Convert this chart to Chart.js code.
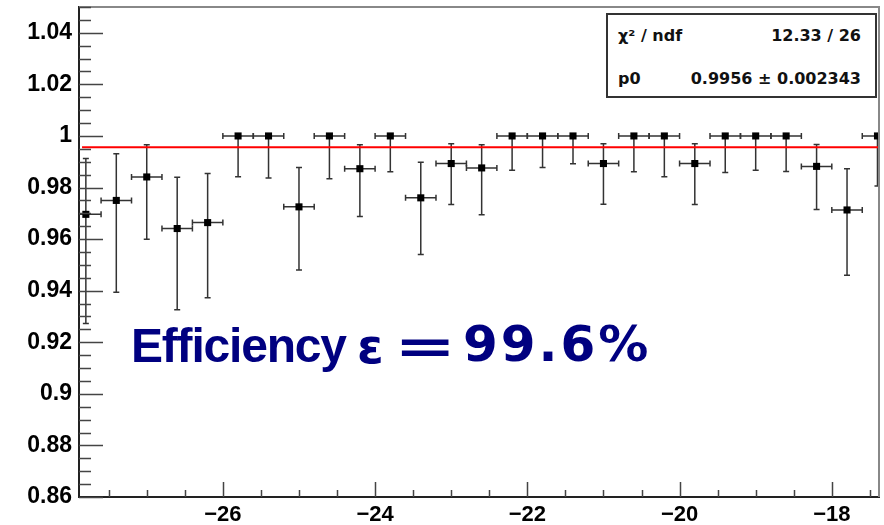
<!DOCTYPE html>
<html>
<head>
<meta charset="utf-8">
<script src="https://cdn.jsdelivr.net/npm/chart.js@4.4.1/dist/chart.umd.min.js"></script>
<style>
  body { margin: 0; background: #fff; }
  #wrap { position: relative; width: 884px; height: 525px; }
  #statbox {
    position: absolute; left: 606px; top: 13px; width: 267px; height: 81px;
    border: 2px solid #333; background: #fff;
    font-family: "DejaVu Sans", sans-serif; font-weight: bold; font-size: 16px; color: #111;
  }
  #statbox .row { position: absolute; left: 10px; right: 14px; display: flex; justify-content: space-between; }
  .eff {
    position: absolute; top: 318px; line-height: 56px;
    font-weight: bold; font-size: 48px; color: #000080; white-space: pre;
  }
  .eff.word { font-family: "Liberation Sans", sans-serif; }
  .eff.math { font-family: "DejaVu Sans", sans-serif; }
</style>
</head>
<body>
<div id="wrap">
  <canvas id="effChart"></canvas>
  <div id="statbox">
    <div class="row" style="top: 11px;"><span>χ² / ndf</span><span>12.33 / 26</span></div>
    <div class="row" style="top: 54px;"><span>p0</span><span>0.9956 ± 0.002343</span></div>
  </div>
  <span class="eff word" style="left: 131px; letter-spacing: -1.2px;">Efficiency</span>
  <span class="eff math" style="left: 357px;">ε</span>
  <span class="eff math" style="left: 394px; transform: scaleX(1.55); transform-origin: left;">=</span>
  <span class="eff math" style="left: 463px; top: 316px; font-size: 50px; letter-spacing: 3px;">99.6%</span>
</div>
<script>
// bin centres
const binX = [-27.8, -27.4, -27.0, -26.6, -26.2, -25.8, -25.4, -25.0, -24.6, -24.2,
  -23.8, -23.4, -23.0, -22.6, -22.2, -21.8, -21.4, -21.0, -20.6, -20.2,
  -19.8, -19.4, -19.0, -18.6, -18.2, -17.8, -17.4];
const binHalfWidth = 0.2;

// efficiency per bin with asymmetric errors
const eff = [0.9696, 0.975, 0.9841, 0.9641, 0.9664, 1, 1, 0.9725, 1, 0.9873,
  1, 0.976, 0.9893, 0.9876, 1, 1, 1, 0.9893, 1, 1,
  0.9893, 1, 1, 1, 0.9882, 0.9713, 1];
const errDown = [0.0423, 0.0356, 0.0242, 0.0315, 0.0291, 0.0158, 0.0163, 0.0245, 0.0166, 0.0185,
  0.0139, 0.022, 0.0159, 0.0182, 0.0133, 0.0122, 0.0108, 0.0158, 0.0139, 0.0158,
  0.0159, 0.0142, 0.0133, 0.0138, 0.0167, 0.0253, 0.0194];
const errUp = [0.0217, 0.0181, 0.0125, 0.0199, 0.019, 0, 0, 0.0153, 0, 0.0093,
  0, 0.0138, 0.0077, 0.009, 0, 0, 0, 0.0077, 0, 0,
  0.0077, 0, 0, 0, 0.0085, 0.016, 0];

// constant fit p0
const fitP0 = 0.9956;
const fitRange = [-27.85, -17.38];

const xTicks = [-26, -24, -22, -20, -18];
const yTicks = [0.86, 0.88, 0.9, 0.92, 0.94, 0.96, 0.98, 1, 1.02, 1.04];
const X_MIN = -27.89, X_MAX = -17.38;
const Y_MIN = 0.86, Y_MAX = 1.05;

const points = binX.map((x, i) => ({ x: x, y: eff[i] }));

// error bars with small end caps, drawn underneath the markers
const errorBars = {
  id: 'errorBars',
  beforeDatasetsDraw(chart) {
    const { ctx, chartArea, scales: { x, y } } = chart;
    ctx.save();
    ctx.beginPath();
    ctx.rect(chartArea.left, chartArea.top, chartArea.right - chartArea.left, chartArea.bottom - chartArea.top);
    ctx.clip();
    ctx.strokeStyle = '#333';
    ctx.lineWidth = 1.5;
    const cap = 3;
    binX.forEach((bx, i) => {
      const px = x.getPixelForValue(bx);
      const py = y.getPixelForValue(eff[i]);
      const xl = x.getPixelForValue(bx - binHalfWidth);
      const xr = x.getPixelForValue(bx + binHalfWidth);
      ctx.beginPath();
      ctx.moveTo(xl, py); ctx.lineTo(xr, py);
      ctx.moveTo(xl, py - cap); ctx.lineTo(xl, py + cap);
      ctx.moveTo(xr, py - cap); ctx.lineTo(xr, py + cap);
      const yLo = y.getPixelForValue(eff[i] - errDown[i]);
      ctx.moveTo(px, py); ctx.lineTo(px, yLo);
      ctx.moveTo(px - cap, yLo); ctx.lineTo(px + cap, yLo);
      if (errUp[i] > 0) {
        const yHi = y.getPixelForValue(eff[i] + errUp[i]);
        ctx.moveTo(px, py); ctx.lineTo(px, yHi);
        ctx.moveTo(px - cap, yHi); ctx.lineTo(px + cap, yHi);
      }
      ctx.stroke();
    });
    ctx.restore();
  }
};

// frame plus inward-pointing ticks
const frameTicks = {
  id: 'frameTicks',
  afterDatasetsDraw(chart) {
    const { ctx, chartArea: a, scales: { x, y } } = chart;
    ctx.save();
    ctx.strokeStyle = '#888';
    ctx.lineWidth = 2;
    ctx.beginPath();
    ctx.moveTo(a.left, a.top); ctx.lineTo(a.right, a.top); ctx.lineTo(a.right, a.bottom);
    ctx.stroke();
    ctx.strokeStyle = '#444';
    ctx.lineWidth = 1.5;
    ctx.beginPath();
    for (let v = Y_MIN; v <= Y_MAX + 1e-9; v += 0.005) {
      const py = Math.round(y.getPixelForValue(v)) + 0.5;
      const major = Math.abs(v * 50 - Math.round(v * 50)) < 1e-6;
      ctx.moveTo(a.left, py); ctx.lineTo(a.left + (major ? 24 : 12), py);
    }
    for (let v = -27.5; v <= X_MAX; v += 0.5) {
      const px = Math.round(x.getPixelForValue(v)) + 0.5;
      const major = Math.abs(v / 2 - Math.round(v / 2)) < 1e-6;
      ctx.moveTo(px, a.bottom); ctx.lineTo(px, a.bottom - (major ? 15 : 7));
    }
    ctx.stroke();
    ctx.restore();
  }
};

new Chart(document.getElementById('effChart'), {
  type: 'scatter',
  data: {
    datasets: [
      {
        label: 'fit',
        type: 'line',
        data: fitRange.map(v => ({ x: v, y: fitP0 })),
        borderColor: '#ff0000',
        borderWidth: 2,
        pointRadius: 0,
        order: 0
      },
      {
        label: 'efficiency',
        data: points,
        pointStyle: 'rect',
        pointRadius: 5,
        backgroundColor: '#000',
        borderColor: '#000',
        borderWidth: 0,
        order: 1
      }
    ]
  },
  options: {
    responsive: true,
    maintainAspectRatio: false,
    animation: false,
    layout: { padding: { top: 7, right: 5, left: 0, bottom: 0 } },
    plugins: { legend: { display: false }, tooltip: { enabled: false } },
    scales: {
      x: {
        type: 'linear',
        min: X_MIN,
        max: X_MAX,
        grid: { display: false, drawTicks: false },
        border: { display: true, color: '#222', width: 2 },
        afterBuildTicks: s => { s.ticks = xTicks.map(v => ({ value: v })); },
        afterFit: s => { s.height = 28; s.paddingLeft = 0; s.paddingRight = 0; },
        ticks: {
          padding: 5,
          color: '#000',
          font: { family: 'Liberation Sans', size: 22, weight: 'bold' },
          callback: v => (v < 0 ? '\u2212' : '') + Math.abs(v)
        }
      },
      y: {
        min: Y_MIN,
        max: Y_MAX,
        grid: { display: false, drawTicks: false },
        border: { display: true, color: '#222', width: 2 },
        afterBuildTicks: s => { s.ticks = yTicks.map(v => ({ value: v })); },
        afterFit: s => { s.width = 79; s.paddingTop = 0; s.paddingBottom = 0; },
        ticks: {
          padding: 7,
          color: '#000',
          font: { family: 'Liberation Sans', size: 23, weight: 'bold' },
          callback: v => String(parseFloat(v.toFixed(2)))
        }
      }
    }
  },
  plugins: [errorBars, frameTicks]
});
</script>
</body>
</html>
